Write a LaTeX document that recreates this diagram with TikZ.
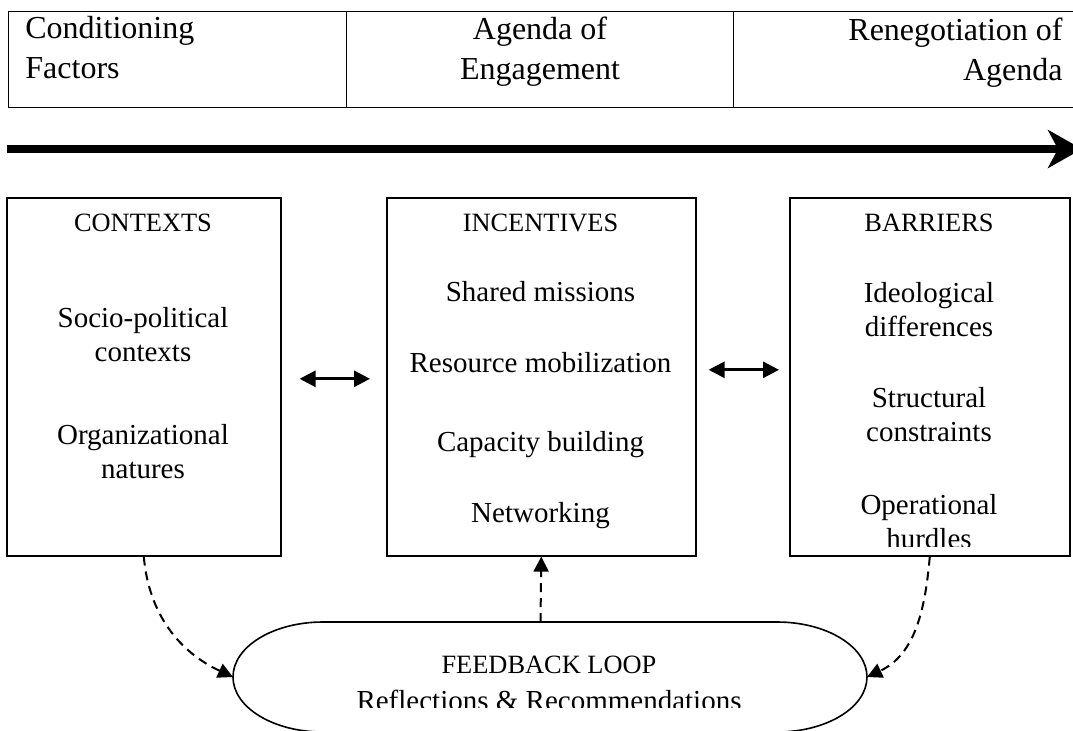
\documentclass[tikz,border=0pt]{standalone}
\usepackage{fontspec}
\setmainfont{Liberation Serif}
\usetikzlibrary{arrows.meta, positioning}

\begin{document}
\begin{tikzpicture}
  [x=0.5pt, y=-0.5pt,
   cell/.style={draw, line width=0.7pt, inner sep=0pt, anchor=north west, minimum height=48pt},
   box/.style={draw, line width=0.8pt, inner sep=0pt, anchor=north west, minimum height=179pt},
   hdr/.style={font=\fontsize{16pt}{20pt}\selectfont, inner sep=0pt},
   ttl/.style={font=\fontsize{13.2pt}{16pt}\selectfont, inner sep=0pt, anchor=base},
   item/.style={font=\fontsize{14.5pt}{17pt}\selectfont, inner sep=0pt, anchor=base, align=center},
   biarrow/.style={{Triangle[length=8pt,width=8pt]}-{Triangle[length=8pt,width=8pt]}, line width=1.4pt},
   feed/.style={-{Triangle[length=7.5pt,width=7.5pt]}, line width=1pt, dash pattern=on 4.5pt off 3pt}]

  \path[use as bounding box, clip] (0,0) rectangle (1073,730);

  % stages of the process
  \node[cell, minimum width=169pt] (stage1) at (8,11) {};
  \node[cell, minimum width=193.5pt] (stage2) at (346,11) {};
  \node[cell, minimum width=190pt] (stage3) at (733,11) {};
  % base = last line
  \node[hdr, anchor=base west, align=left] (stage1txt) at (25,78) {Conditioning\\Factors};
  \node[hdr, anchor=base, align=center] (stage2txt) at (540,79) {Agenda of\\Engagement};
  \node[hdr, anchor=base east, align=right] (stage3txt) at (1063,80) {Renegotiation of\\Agenda};

  % time line
  \coordinate (tl0) at (7,149);
  \coordinate (tl1) at (1082,149);
  \draw[line width=4pt, -{Stealth[length=17pt, width=19pt, inset=5pt]}] (tl0) -- (tl1);

  % the three boxes
  \node[box, minimum width=137pt] (ctx) at (6,197) {};
  \node[box, minimum width=154.5pt] (inc) at (386,197) {};
  \node[box, minimum width=140pt] (bar) at (789,197) {};

  \node[ttl] (ctxT) at (143,231) {CONTEXTS};
  \node[item] (ctx1) at (143,361) {Socio-political\\contexts};
  \node[item] (ctx2) at (143,478) {Organizational\\natures};

  \node[ttl] (incT) at (540.5,231) {INCENTIVES};
  \node[item] (inc1) at (540.5,301) {Shared missions};
  \node[item] (inc2) at (540.5,372) {Resource mobilization};
  \node[item] (inc3) at (540.5,451) {Capacity building};
  \node[item] (inc4) at (540.5,522) {Networking};

  \begin{scope}
    \clip (789,197) rectangle (1069,546);
    \node[ttl] (barT) at (929,231) {BARRIERS};
    \node[item] (bar1) at (929,336) {Ideological\\differences};
    \node[item] (bar2) at (929,441) {Structural\\constraints};
    \node[item] (bar3) at (929,548) {Operational\\hurdles};
  \end{scope}

  \draw[biarrow, shorten <=9pt, shorten >=8pt] ([yshift=-1pt]ctx.east) -- ([yshift=-1pt]inc.west);
  \draw[biarrow, shorten <=6pt, shorten >=5pt] ([yshift=3.5pt]inc.east) -- ([yshift=3.5pt]bar.west);

  % feedback loop
  \draw[line width=0.8pt] (323,622) -- (777,622)
    arc[start angle=-90, end angle=90, x radius=90, y radius=55] -- (323,732)
    arc[start angle=90, end angle=270, x radius=90, y radius=55] -- cycle;
  \coordinate (fbL) at (233,677);
  \coordinate (fbR) at (867,677);
  \coordinate (fbT) at (540.5,622);
  \begin{scope}
    \clip (233,600) rectangle (867,707);
    \node[ttl] (fbtitle) at (549,673) {FEEDBACK LOOP};
    \node[item] (fbtext) at (549,710) {Reflections \& Recommendations};
  \end{scope}

  \draw[feed] (ctx.south) to[out=-85, in=155] (fbL);
  \draw[feed] (fbT) -- (inc.south);
  \draw[feed] (bar.south) to[out=-95, in=25] (fbR);
\end{tikzpicture}
\end{document}
